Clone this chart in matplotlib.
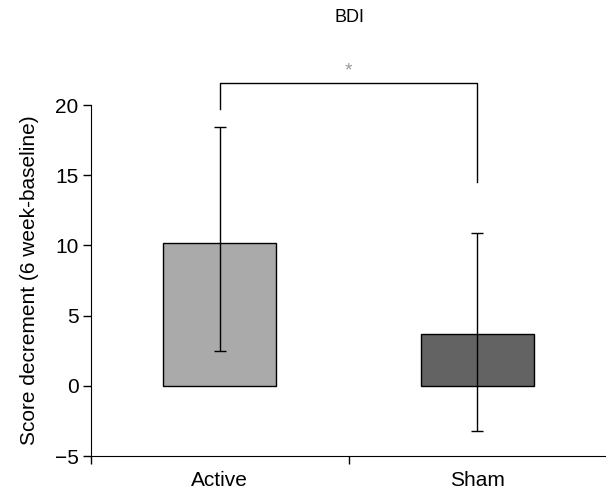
import matplotlib
matplotlib.use("Agg")
import matplotlib.pyplot as plt
import numpy as np

plt.rcParams['font.family'] = ['Liberation Sans', 'DejaVu Sans']

categories = ["Active", "Sham"]
means = [10.2, 3.7]
err_upper = [18.45, 10.85]
err_lower = [2.45, -3.25]
bar_colors = ["#aaaaaa", "#636363"]
yticks = [-5, 0, 5, 10, 15, 20]
bracket_y = 21.55
bracket_left_end = 19.75
bracket_right_end = 14.5

fig = plt.figure(figsize=(6.06, 4.92), dpi=100)
ax = fig.add_axes([91/606, 1-456/492, 1-91/606, (456-105)/492])

x = np.arange(len(categories))
yerr = [np.array(means) - np.array(err_lower), np.array(err_upper) - np.array(means)]
ax.bar(x, means, width=0.44, color=bar_colors, edgecolor='black', linewidth=1, zorder=2)
ax.errorbar(x, means, yerr=yerr, fmt='none', ecolor='black', elinewidth=1,
            capsize=4.5, capthick=1, zorder=3)

ax.set_xlim(-0.5, 1.5)
ax.set_ylim(-5, 20)
ax.set_yticks(yticks)
ax.set_xticks([-0.5, 0.5], minor=False)
ax.set_xticklabels([])
ax.set_xticks(x, minor=True)
ax.set_xticklabels(categories, minor=True)
ax.tick_params(axis='x', which='minor', length=0, labelsize=15, pad=11)
ax.tick_params(axis='x', which='major', length=6, width=1, direction='out')
ax.tick_params(axis='y', length=6, width=1, direction='out', labelsize=15, pad=3)
ax.spines['top'].set_visible(False)
ax.spines['right'].set_visible(False)
ax.set_ylabel("Score decrement (6 week-baseline)", fontsize=15, labelpad=11)

ax.plot([0, 0, 1, 1], [bracket_left_end, bracket_y, bracket_y, bracket_right_end],
        color='black', linewidth=1, clip_on=False)
ax.text(0.5, bracket_y + 0.25, "*", color='#999999', ha='center', va='bottom', fontsize=14)

fig.text(349/606, 1-18/492, "BDI", ha='center', va='center', fontsize=13)

fig.savefig("out.png", dpi=100)
